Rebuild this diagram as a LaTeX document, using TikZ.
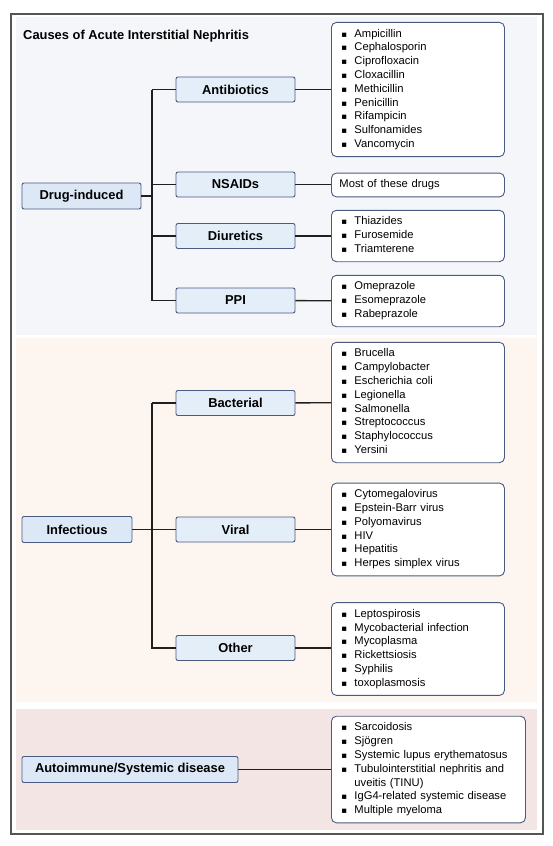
\documentclass[tikz,border=0pt]{standalone}
\usepackage{fontspec}
\setmainfont{Liberation Sans}
\newfontfamily\symfont{DejaVu Sans}
\usetikzlibrary{positioning}

\definecolor{drugbg}{HTML}{F4F6FA}
\definecolor{infbg}{HTML}{FCF5F0}
\definecolor{autobg}{HTML}{F4E5E5}
\definecolor{boxfill}{HTML}{E4EEF9}
\definecolor{catfill}{HTML}{DCE8F5}
\definecolor{boxline}{HTML}{4B5A80}
\definecolor{frameline}{HTML}{555555}

\newcommand{\bul}{\strut\makebox[13pt][l]{\symfont\fontsize{8.5pt}{8.5pt}\selectfont ▪}}

\tikzset{
    catbox/.style={draw=boxline, fill=catfill, rounded corners=2pt, line width=0.9pt,
        minimum height=26pt, inner sep=0pt, font=\fontsize{12.9pt}{15pt}\selectfont\bfseries},
    subbox/.style={draw=boxline, fill=boxfill, rounded corners=2pt, line width=0.9pt,
        minimum width=119pt, minimum height=25pt, inner sep=0pt,
        font=\fontsize{12.9pt}{15pt}\selectfont\bfseries},
    leaf/.style={draw=boxline, fill=white, rounded corners=5pt, line width=0.9pt,
        anchor=west, align=left, inner xsep=10pt, inner ysep=5pt, text width=153pt,
        font=\fontsize{11.2pt}{13.8pt}\selectfont},
    link/.style={line width=1.4pt, draw=black!88}
}

\begin{document}
\begin{tikzpicture}[x=1pt, y=-1pt]
    \useasboundingbox (0,0) rectangle (553,846);

    % panels
    \draw[frameline, line width=1.3pt, fill=white] (11,14) rectangle (543,834);
    \fill[drugbg] (16,17) rectangle (537,335);
    \fill[infbg] (16,338) rectangle (537,702);
    \fill[autobg] (16,709) rectangle (537,830);

    \node[anchor=west, inner sep=0pt, font=\fontsize{12.9pt}{15pt}\selectfont\bfseries] (title) at (23,36) {Causes of Acute Interstitial Nephritis};

    % drug-induced
    \node[catbox, minimum width=119pt] (drug) at (81.5,196) {Drug-induced};
    \node[subbox] (anti) at (235.5,89.5) {Antibiotics};
    \node[subbox] (nsaid) at (235.5,184.5) {NSAIDs};
    \node[subbox] (diur) at (235.5,236) {Diuretics};
    \node[subbox] (ppi) at (235.5,300.5) {PPI};
    \coordinate (drugbus) at (152,0);

    \node[leaf] (antilist) at (331,89.5) {\bul Ampicillin\\ \bul Cephalosporin\\ \bul Ciprofloxacin\\ \bul Cloxacillin\\ \bul Methicillin\\ \bul Penicillin\\ \bul Rifampicin\\ \bul Sulfonamides\\ \bul Vancomycin};
    \node[leaf, inner xsep=8pt, text width=157pt] (nsaidlist) at (331,185) {\strut Most of these drugs};
    \node[leaf] (diurlist) at (331,236) {\bul Thiazides\\ \bul Furosemide\\ \bul Triamterene};
    \node[leaf] (ppilist) at (331,301) {\bul Omeprazole\\ \bul Esomeprazole\\ \bul Rabeprazole};

    % infectious
    \node[catbox, minimum width=110pt] (inf) at (77,529.5) {Infectious};
    \node[subbox] (bact) at (235.5,403) {Bacterial};
    \node[subbox] (viral) at (235.5,529.5) {Viral};
    \node[subbox] (other) at (235.5,648) {Other};
    \coordinate (infbus) at (152,0);

    \node[leaf] (bactlist) at (331,402.5) {\bul Brucella\\ \bul Campylobacter\\ \bul Escherichia coli\\ \bul Legionella\\ \bul Salmonella\\ \bul Streptococcus\\ \bul Staphylococcus\\ \bul Yersini};
    \node[leaf] (virallist) at (331,529.5) {\bul Cytomegalovirus\\ \bul Epstein-Barr virus\\ \bul Polyomavirus\\ \bul HIV\\ \bul Hepatitis\\ \bul Herpes simplex virus};
    \node[leaf] (otherlist) at (331,649) {\bul Leptospirosis\\ \bul Mycobacterial infection\\ \bul Mycoplasma\\ \bul Rickettsiosis\\ \bul Syphilis\\ \bul toxoplasmosis};

    % autoimmune
    \node[catbox, minimum width=216pt] (auto) at (130,769.5) {Autoimmune/Systemic disease};
    \node[leaf, text width=174pt] (autolist) at (331,769.5) {\bul Sarcoidosis\\ \bul Sjögren\\ \bul Systemic lupus erythematosus\\ \bul Tubulointerstitial nephritis and\\ \strut\hspace*{13pt}uveitis (TINU)\\ \bul IgG4-related systemic disease\\ \bul Multiple myeloma};

    % connectors
    \draw[link] (drug.east) -- (drug.east -| drugbus);
    \draw[link] (anti.west -| drugbus) |- (anti.west);
    \draw[link] (anti.west -| drugbus) |- (nsaid.west);
    \draw[link] (anti.west -| drugbus) |- (diur.west);
    \draw[link] (anti.west -| drugbus) |- (ppi.west);
    \draw[link] (anti) -- (antilist);
    \draw[link] (nsaid) -- (nsaidlist.west |- nsaid);
    \draw[link] (diur) -- (diurlist);
    \draw[link] (ppi) -- (ppilist);

    \draw[link] (inf.east) -- (inf.east -| infbus);
    \draw[link] (bact.west -| infbus) |- (bact.west);
    \draw[link] (bact.west -| infbus) |- (viral.west);
    \draw[link] (bact.west -| infbus) |- (other.west);
    \draw[link] (bact) -- (bactlist);
    \draw[link] (viral) -- (virallist);
    \draw[link] (other) -- (otherlist.west |- other);

    \draw[link] (auto) -- (autolist);
\end{tikzpicture}
\end{document}
